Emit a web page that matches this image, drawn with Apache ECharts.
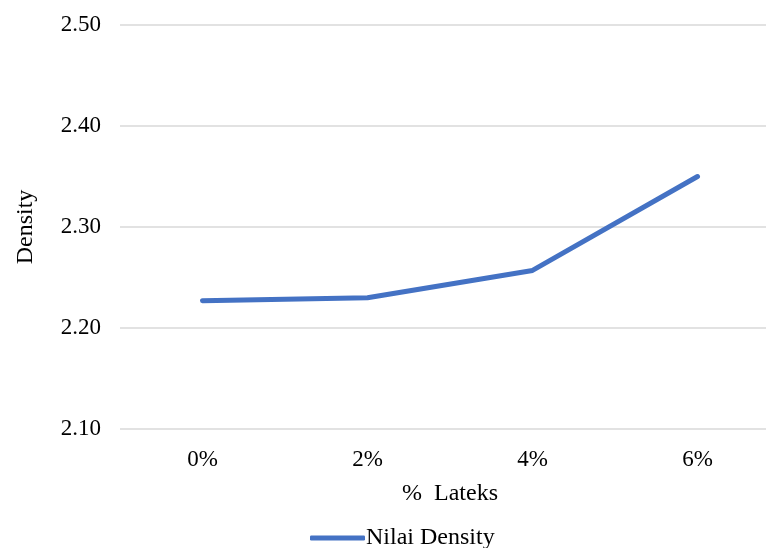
<!DOCTYPE html>
<html>
<head>
<meta charset="utf-8">
<script src="https://cdn.jsdelivr.net/npm/echarts@6/dist/echarts.min.js"></script>
<style>
  html, body { margin: 0; padding: 0; background: #ffffff; }
  #chart { width: 766px; height: 548px; }
</style>
</head>
<body>
<div id="chart"></div>
<script>
// Latex content on the x axis, measured density on the y axis
const categories = ['0%', '2%', '4%', '6%'];
const densityValues = [2.227, 2.230, 2.257, 2.350];
const seriesName = 'Nilai Density';

const serif = '"Liberation Serif", "Times New Roman", serif';
const chart = echarts.init(document.getElementById('chart'), null, { renderer: 'canvas' });

chart.setOption({
  animation: false,
  backgroundColor: '#ffffff',
  grid: {
    left: 120, top: 25, right: -14, bottom: 119,
    containLabel: false,
    outerBoundsMode: 'none'
  },
  legend: {
    data: [seriesName],
    left: 305,
    top: 521,
    icon: 'roundRect',
    itemWidth: 55,
    itemHeight: 5,
    itemGap: 10,
    textStyle: { fontFamily: serif, fontSize: 24, color: '#000000', padding: [0, 0, 0, -4] }
  },
  xAxis: {
    type: 'category',
    data: categories,
    boundaryGap: true,
    axisLine: { show: false },
    axisTick: { show: false },
    axisLabel: { fontFamily: serif, fontSize: 23, color: '#000000', margin: 19 },
    name: '%  Lateks',
    nameLocation: 'middle',
    nameGap: 53,
    nameTextStyle: { fontFamily: serif, fontSize: 24, color: '#000000' }
  },
  yAxis: {
    type: 'value',
    min: 2.1,
    max: 2.5,
    interval: 0.1,
    axisLine: { show: false },
    axisTick: { show: false },
    splitLine: { lineStyle: { color: '#d9d9d9', width: 1.5 } },
    axisLabel: {
      fontFamily: serif, fontSize: 23, color: '#000000', margin: 19,
      formatter: v => v.toFixed(2)
    },
    name: 'Density',
    nameLocation: 'middle',
    nameGap: 82,
    nameRotate: 90,
    nameTextStyle: { fontFamily: serif, fontSize: 24, color: '#000000' }
  },
  series: [{
    name: seriesName,
    type: 'line',
    data: densityValues,
    symbol: 'none',
    smooth: false,
    color: '#4472c4',
    lineStyle: { color: '#4472c4', width: 5, cap: 'round', join: 'round' }
  }]
});
</script>
</body>
</html>
